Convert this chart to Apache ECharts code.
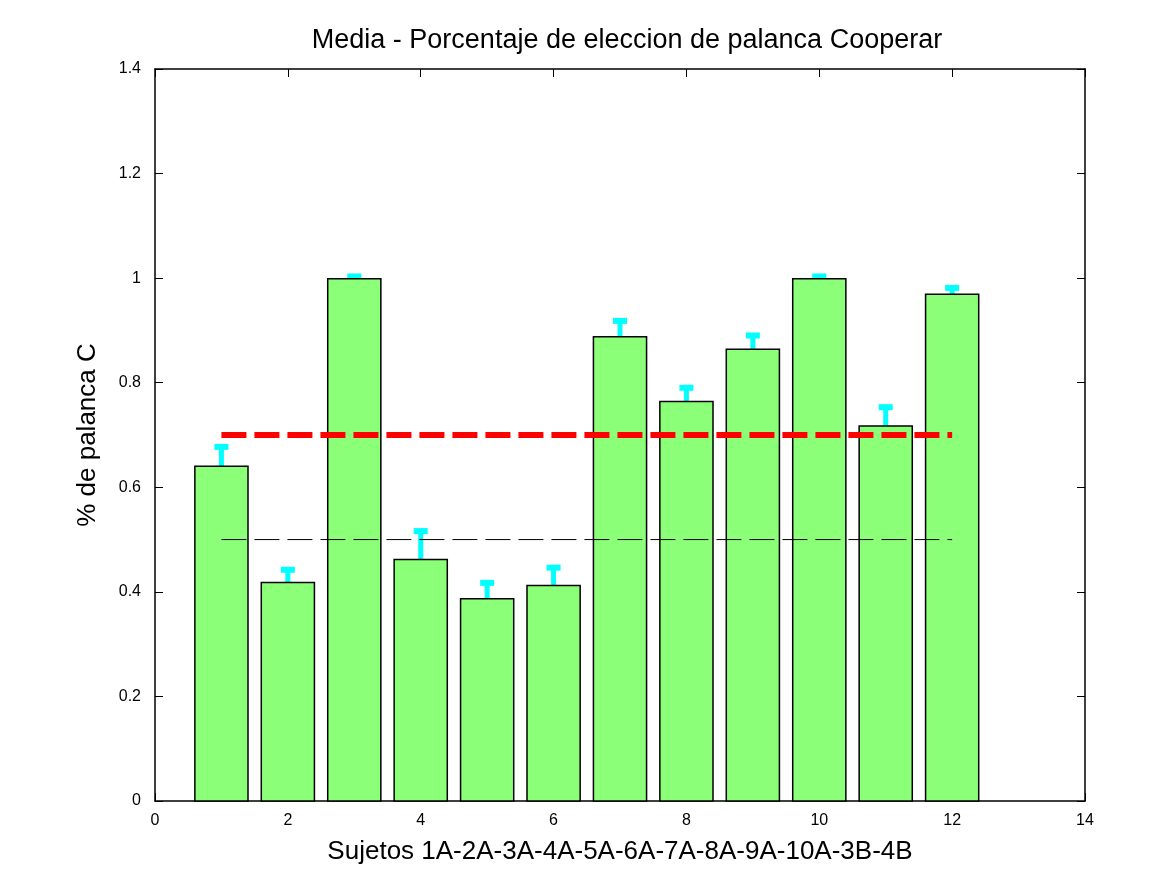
<!DOCTYPE html>
<html><head><meta charset="utf-8">
<script src="https://cdn.jsdelivr.net/npm/echarts@6/dist/echarts.min.js"></script>
<style>body{margin:0}#c{width:1167px;height:875px}</style></head>
<body><div id="c"></div>
<script>
var subjects = [1,2,3,4,5,6,7,8,9,10,11,12];
var means = [0.640,0.418,0.999,0.462,0.387,0.412,0.888,0.764,0.864,0.999,0.717,0.969];
var errors = [0.043,0.030,0.010,0.060,0.036,0.040,0.036,0.032,0.032,0.010,0.042,0.018];
var redLine = [[1,0.7],[12,0.7]];
var blackLine = [[1,0.5],[12,0.5]];

var chart = echarts.init(document.getElementById('c'));
var data = subjects.map(function(s,i){return [s, means[i], errors[i]];});
var font = 'Liberation Sans, Arial, sans-serif';
var axisCommon = {
  min:0, axisLine:{show:true,onZero:false,lineStyle:{color:'#000',width:1.5}},
  axisTick:{inside:true,length:8,lineStyle:{color:'#000'}},
  splitLine:{show:false}
};
chart.setOption({
  animation:false,
  title:{text:'Media - Porcentaje de eleccion de palanca Cooperar',left:622,top:22,textAlign:'center',
    textStyle:{fontFamily:font,fontSize:27,fontWeight:'normal',color:'#000'}},
  grid:{left:155,right:82,top:69,bottom:74},
  xAxis:[
    Object.assign({type:'value',max:14,interval:2,name:'Sujetos 1A-2A-3A-4A-5A-6A-7A-8A-9A-10A-3B-4B',
      nameLocation:'middle',nameGap:38,nameTextStyle:{fontFamily:font,fontSize:26,color:'#000'},
      axisLabel:{fontFamily:font,fontSize:16,color:'#000',margin:12}},axisCommon),
    Object.assign({type:'value',max:14,interval:2,position:'top',axisLabel:{show:false}},axisCommon)
  ],
  yAxis:[
    Object.assign({type:'value',max:1.4,interval:0.2,name:'% de palanca C',nameLocation:'middle',nameGap:54,
      nameTextStyle:{fontFamily:font,fontSize:26,color:'#000'},
      axisLabel:{fontFamily:font,fontSize:16,color:'#000',margin:14,formatter:function(v){return +v.toFixed(1)+'';}}},axisCommon),
    Object.assign({type:'value',max:1.4,interval:0.2,position:'right',axisLabel:{show:false}},axisCommon)
  ],
  series:[
    {type:'custom',data:data,encode:{x:0,y:1},z:3,
     renderItem:function(p,api){
       var x=api.value(0),y=api.value(1),e=api.value(2);
       var a=api.coord([x-0.4,y]),b=api.coord([x+0.4,0]);
       var t=api.coord([x,y+e]);
       return {type:'group',children:[
         {type:'line',shape:{x1:t[0],y1:t[1]+2,x2:t[0],y2:a[1]},style:{stroke:'#00ffff',lineWidth:5}},
         {type:'line',shape:{x1:t[0]-7,y1:t[1]+3,x2:t[0]+7,y2:t[1]+3},style:{stroke:'#00ffff',lineWidth:6}},
         {type:'rect',shape:{x:a[0],y:a[1],width:b[0]-a[0],height:b[1]-a[1]},
          style:{fill:'#8cff78',stroke:'#000',lineWidth:1.5}}
       ]};
     }},
    {type:'line',data:redLine,symbol:'none',z:5,lineStyle:{color:'#ff0000',width:6,type:[25,8]}},
    {type:'line',data:blackLine,symbol:'none',z:5,lineStyle:{color:'#000',width:1,type:[25,8]}}
  ]
});
</script></body></html>
